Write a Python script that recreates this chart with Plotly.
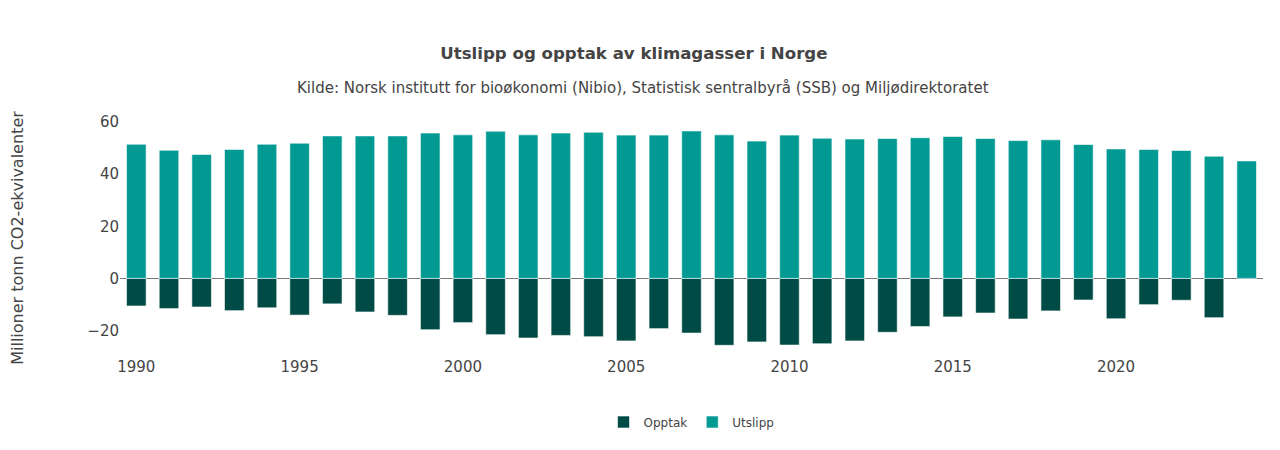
import plotly.graph_objects as go

# Utslipp og opptak av klimagasser, millioner tonn CO2-ekvivalenter
years = list(range(1990, 2025))

utslipp = [51.5, 49.2, 47.6, 49.5, 51.5, 51.9, 54.7, 54.7, 54.7, 55.8,
           55.1, 56.5, 55.1, 55.8, 56.1, 55.0, 55.0, 56.6, 55.1, 52.7,
           55.0, 53.8, 53.5, 53.7, 54.0, 54.5, 53.7, 52.9, 53.2, 51.4,
           49.7, 49.5, 49.1, 46.9, 45.1]

opptak = [-10.6, -11.6, -11.0, -12.4, -11.3, -14.1, -9.8, -12.9, -14.2, -19.7,
          -17.0, -21.6, -22.9, -21.9, -22.4, -24.0, -19.3, -21.0, -25.7, -24.4,
          -25.6, -25.1, -24.0, -20.7, -18.5, -14.8, -13.3, -15.6, -12.5, -8.3,
          -15.5, -10.1, -8.4, -15.1, None]

title = "Utslipp og opptak av klimagasser i Norge"
kilde = "Kilde: Norsk institutt for bioøkonomi (Nibio), Statistisk sentralbyrå (SSB) og Miljødirektoratet"

font = "Verdana, DejaVu Sans, sans-serif"

fig = go.Figure()
fig.add_trace(go.Bar(x=years, y=opptak, name="Opptak",
                     marker=dict(color="#004b45", line=dict(color="rgba(255,255,255,0.6)", width=1))))
fig.add_trace(go.Bar(x=years, y=utslipp, name="Utslipp",
                     marker=dict(color="#009a93", line=dict(color="rgba(255,255,255,0.6)", width=1))))

fig.update_layout(
    width=1280, height=450,
    barmode="relative", bargap=0.4,
    plot_bgcolor="white", paper_bgcolor="white",
    font=dict(family=font, color="#444"),
    title=dict(text="<b>" + title + "</b>", x=0.489, xanchor="center",
               yref="container", y=1 - 45 / 450, yanchor="middle",
               font=dict(size=16.6, color="#444")),
    margin=dict(l=112, r=25, t=112, b=102),
    legend=dict(orientation="h", x=0.5, xanchor="center",
                yref="container", y=1 - 414 / 450, yanchor="middle",
                font=dict(size=12)),
    xaxis=dict(tickmode="linear", tick0=1990, dtick=5, showgrid=False,
               tickfont=dict(size=15), ticks="", automargin=False),
    yaxis=dict(title=dict(text="Millioner tonn CO2-ekvivalenter", font=dict(size=16), standoff=71),
               showgrid=False, zeroline=True, zerolinecolor="#777", zerolinewidth=1,
               tickvals=[-20, 0, 20, 40, 60], tickfont=dict(size=15), range=[-29.8, 60.8],
               automargin=False),
)

fig.add_annotation(text=kilde, xref="paper", yref="paper", x=0.4576, y=1 + 32 / 236,
                   xanchor="center", yanchor="middle", showarrow=False,
                   font=dict(size=15, color="#444"))

fig.write_html("out.html")
